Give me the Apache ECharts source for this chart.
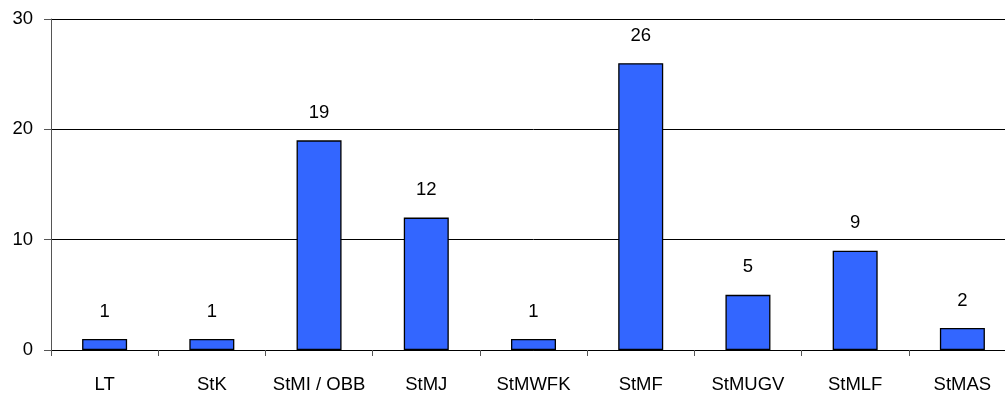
<!DOCTYPE html>
<html>
<head>
<meta charset="utf-8">
<script src="https://cdn.jsdelivr.net/npm/echarts@6/dist/echarts.min.js"></script>
<style>
  html, body { margin: 0; padding: 0; background: #fff; overflow: hidden; }
  /* the plot runs slightly past the right edge of the window */
  #chart { width: 1016px; height: 394px; }
</style>
</head>
<body>
<div id="chart"></div>
<script>
// Counts per unit
const categories = ['LT', 'StK', 'StMI / OBB', 'StMJ', 'StMWFK', 'StMF', 'StMUGV', 'StMLF', 'StMAS'];
const counts = [1, 1, 19, 12, 1, 26, 5, 9, 2];
const yTicks = [0, 10, 20, 30];

const font = 'Liberation Sans, Arial, sans-serif';
const chart = echarts.init(document.getElementById('chart'));

chart.setOption({
  animation: false,
  backgroundColor: '#ffffff',
  grid: { left: 51, top: 19, bottom: 43, right: 0 },
  xAxis: {
    type: 'category',
    data: categories,
    boundaryGap: true,
    axisLine: { lineStyle: { color: '#000', width: 1 } },
    axisTick: { show: true, length: 6, alignWithLabel: false, lineStyle: { color: '#555' } },
    axisLabel: { color: '#000', fontFamily: font, fontSize: 18.5, margin: 25, interval: 0 }
  },
  yAxis: {
    type: 'value',
    min: yTicks[0],
    max: yTicks[yTicks.length - 1],
    interval: 10,
    axisLine: { show: true, lineStyle: { color: '#555', width: 1 } },
    axisTick: { show: true, length: 7, lineStyle: { color: '#555' } },
    axisLabel: { color: '#000', fontFamily: font, fontSize: 18.5, margin: 18 },
    splitLine: { show: true, lineStyle: { color: '#000', width: 1 } }
  },
  series: [{
    type: 'bar',
    data: counts,
    barWidth: 45,
    itemStyle: { color: '#3366ff', borderColor: '#000', borderWidth: 1.3 },
    label: {
      show: true,
      position: 'top',
      distance: 18,
      color: '#000',
      fontFamily: font,
      fontSize: 18.5
    }
  }]
});
</script>
</body>
</html>
